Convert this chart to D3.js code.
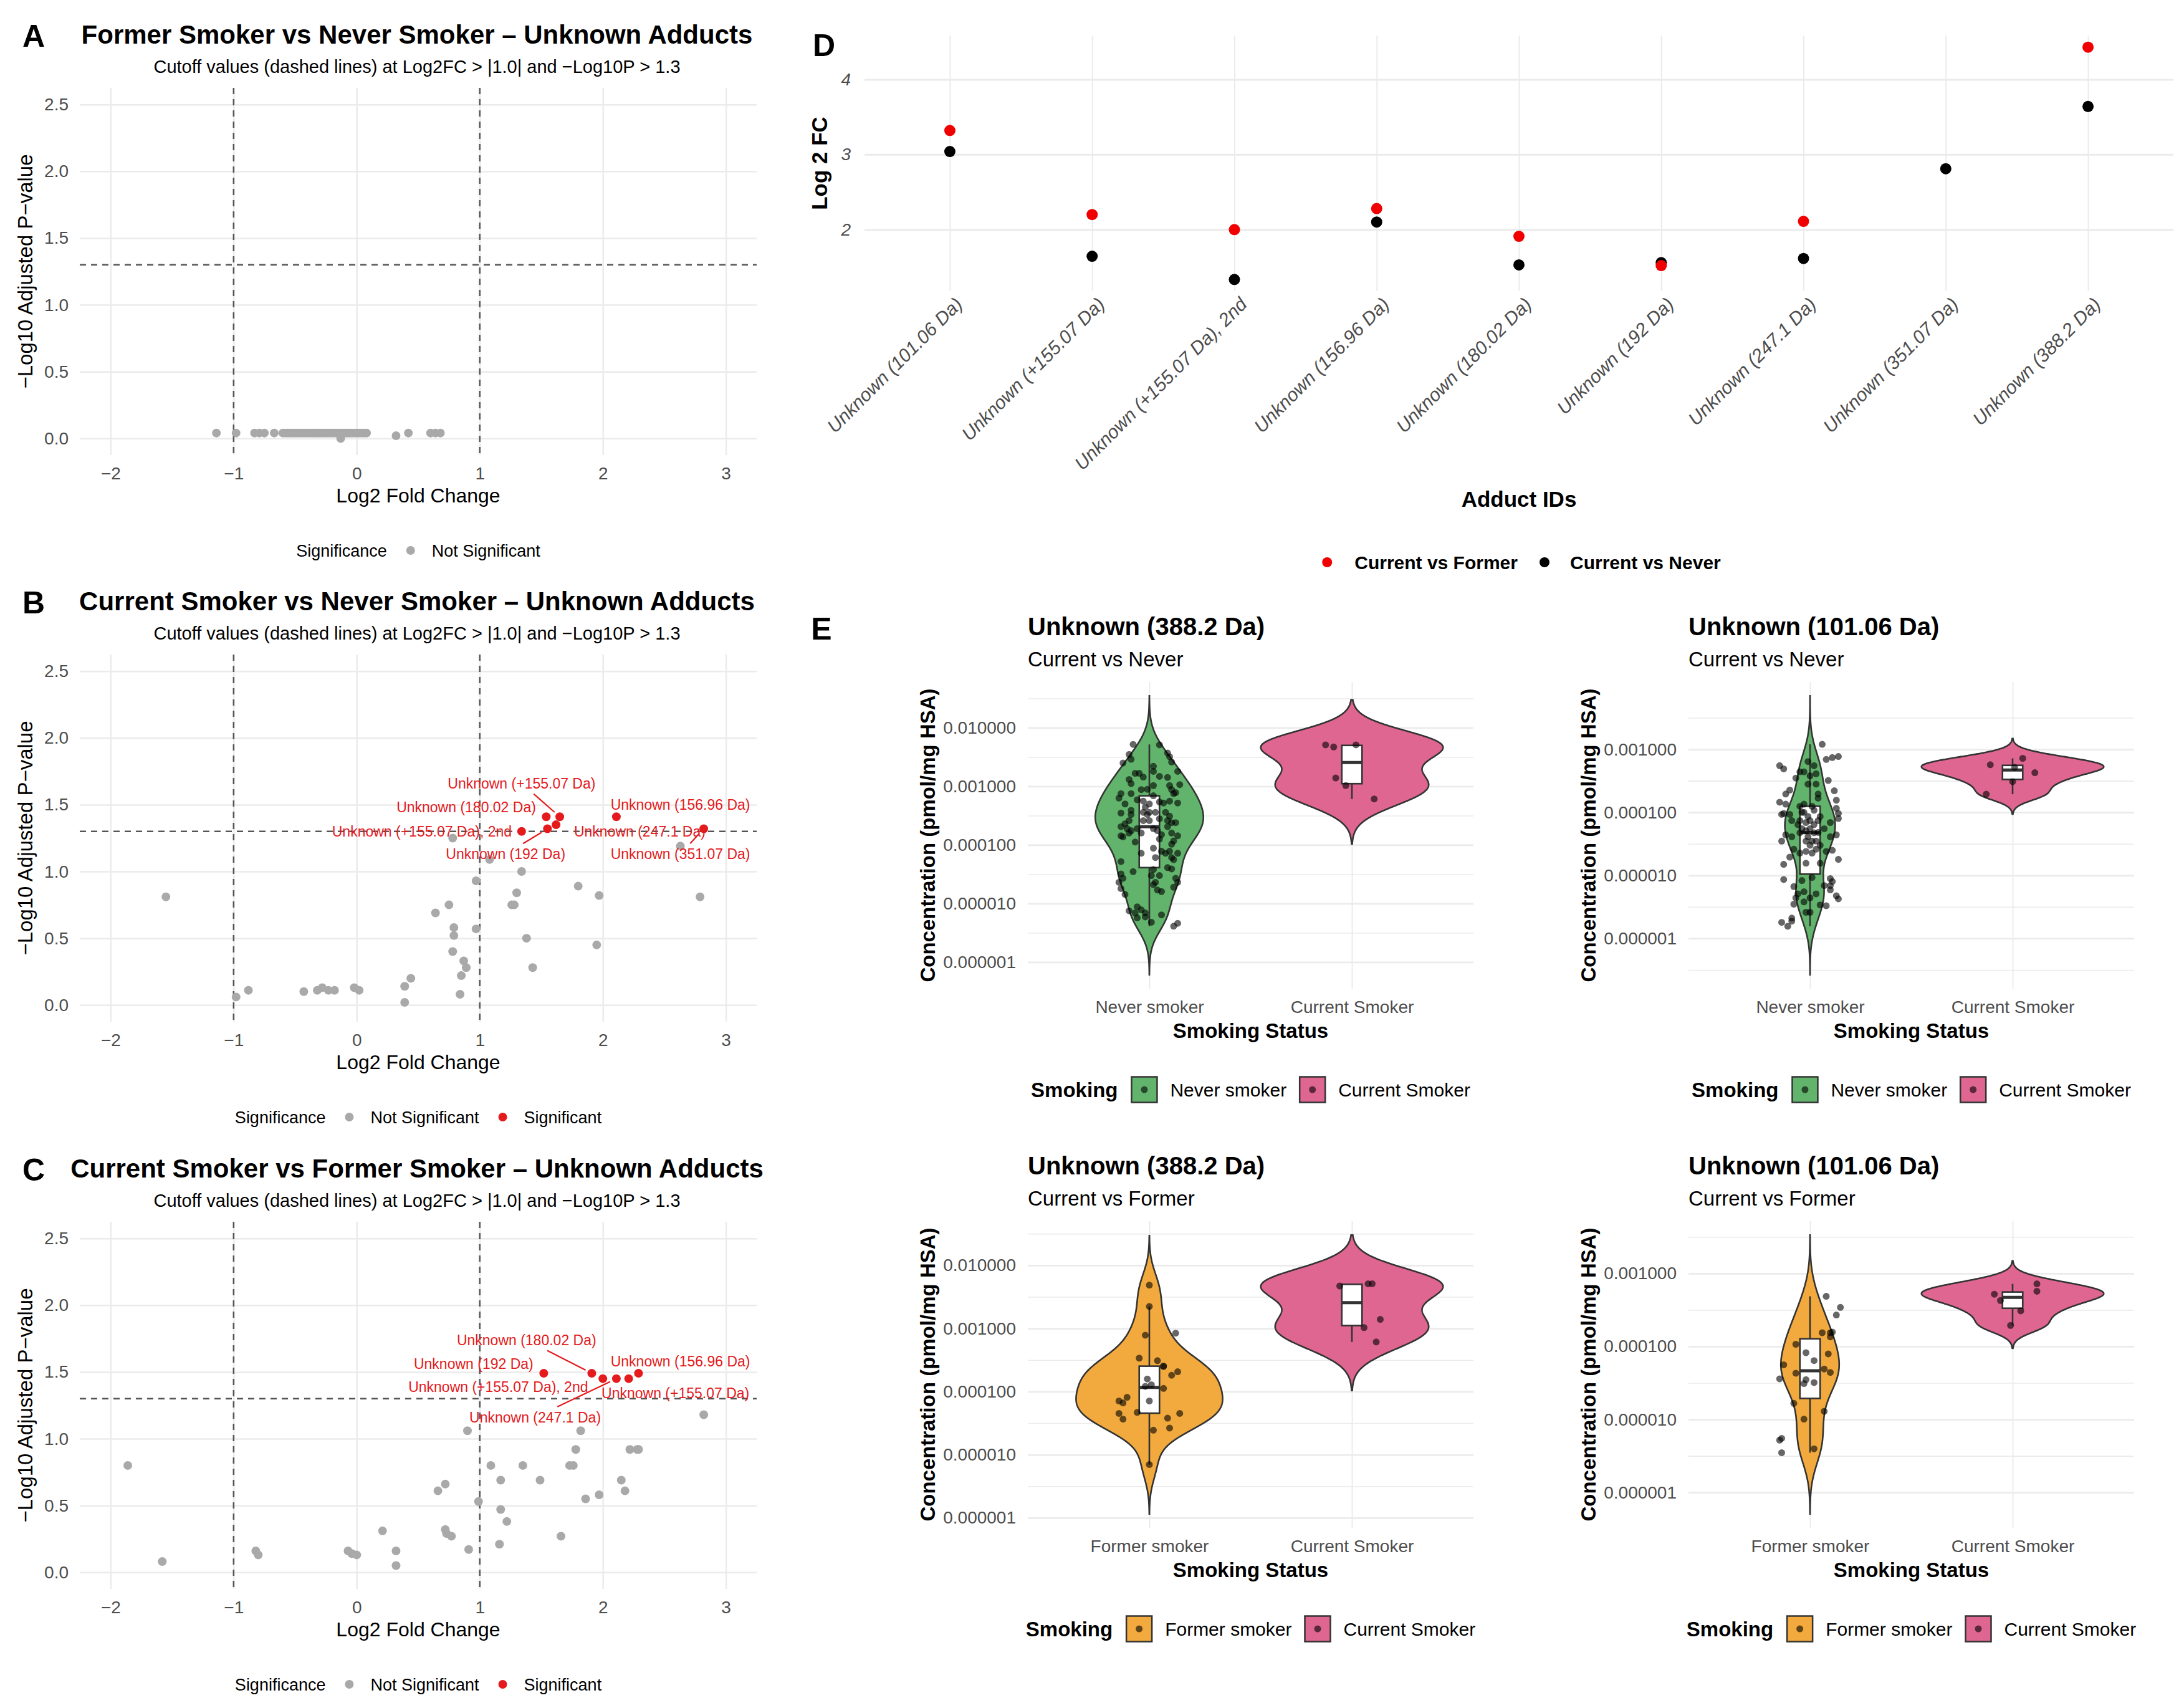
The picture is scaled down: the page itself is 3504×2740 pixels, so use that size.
<!DOCTYPE html>
<html>
<head>
<meta charset="utf-8">
<script src="https://cdn.jsdelivr.net/npm/d3@7"></script>
<style>
  body { margin: 0; background: #fff; }
</style>
</head>
<body>
<script>
// ---------- panels A-C: volcano data [log2 fold change, -log10 adjusted p] ----------
let volcanoXLimits = [-2, 3]
let volcanoYLimits = [0, 2.5]
let volcanoXTicks = [-2, -1, 0, 1, 2, 3]
let volcanoYTicks = [0, 0.5, 1, 1.5, 2, 2.5]
let cutFc = [-1, 1]
let cutP = 1.3

let volcanoA = [[-1.14,0.04],[-0.98,0.04],[-0.83,0.04],[-0.79,0.04],[-0.75,0.04],[-0.67,0.04],[-0.60,0.04],
  [-0.58,0.04],[-0.56,0.04],[-0.54,0.04],[-0.52,0.04],[-0.50,0.04],[-0.48,0.04],[-0.46,0.04],[-0.44,0.04],
  [-0.42,0.04],[-0.40,0.04],[-0.38,0.04],[-0.36,0.04],[-0.34,0.04],[-0.32,0.04],[-0.30,0.04],[-0.28,0.04],
  [-0.26,0.04],[-0.24,0.04],[-0.22,0.04],[-0.20,0.04],[-0.18,0.04],[-0.16,0.04],[-0.14,0.04],[-0.13,0.0],
  [-0.12,0.04],[-0.10,0.04],[-0.08,0.04],[-0.06,0.04],[-0.04,0.04],[-0.02,0.04],[0.0,0.04],[0.02,0.04],
  [0.04,0.04],[0.06,0.04],[0.08,0.04],[0.32,0.02],[0.42,0.04],[0.60,0.04],[0.64,0.04],[0.68,0.04]]

let volcanoB = [[-1.55,0.81],[-0.98,0.06],[-0.88,0.11],[-0.43,0.10],[-0.32,0.11],[-0.28,0.13],[-0.23,0.11],
  [-0.18,0.11],[-0.02,0.13],[0.02,0.11],[0.39,0.14],[0.39,0.02],[0.44,0.20],[0.64,0.69],[0.75,0.75],
  [0.79,0.58],[0.79,0.52],[0.78,0.40],[0.78,1.25],[0.87,0.33],[0.89,0.28],[0.85,0.22],[0.84,0.08],
  [0.97,0.57],[0.97,0.93],[1.08,1.09],[1.30,0.84],[1.26,0.75],[1.28,0.75],[1.34,1.00],[1.38,0.50],
  [1.43,0.28],[1.80,0.89],[1.97,0.82],[1.95,0.45],[2.63,1.19],[2.79,0.81]]

let volcanoC = [[-1.86,0.80],[-1.58,0.08],[-0.82,0.16],[-0.80,0.13],[-0.07,0.16],[-0.04,0.14],[0.0,0.13],
  [0.21,0.31],[0.32,0.16],[0.32,0.05],[0.66,0.61],[0.72,0.66],[0.72,0.32],[0.73,0.29],[0.77,0.27],
  [0.90,1.06],[0.91,0.17],[0.99,0.53],[1.09,0.80],[1.17,0.47],[1.17,0.69],[1.16,0.21],[1.22,0.38],
  [1.35,0.80],[1.49,0.69],[1.66,0.27],[1.73,0.80],[1.76,0.80],[1.78,0.92],[1.82,1.06],[1.86,0.55],
  [1.97,0.58],[2.15,0.69],[2.18,0.61],[2.22,0.92],[2.28,0.92],[2.29,0.92],[2.82,1.18]]

// significant adducts
let sigBIds = ['Unknown (+155.07 Da)', 'Unknown (180.02 Da)', 'Unknown (156.96 Da)', 'Unknown (+155.07 Da), 2nd',
  'Unknown (247.1 Da)', 'Unknown (192 Da)', 'Unknown (351.07 Da)']
let sigBFc = [1.65, 1.54, 2.11, 1.34, 1.62, 1.55, 2.82]
let sigBP = [1.41, 1.41, 1.41, 1.30, 1.35, 1.32, 1.32]
// where the repelled labels ended up (data units) and whether a leader line shows
let sigBLabelAt = [[1.34,1.66],[0.89,1.48],[2.63,1.50],[0.53,1.30],[2.30,1.30],[1.21,1.13],[2.63,1.13]]
let sigBSegment = [true, false, false, false, false, true, true]

let sigCIds = ['Unknown (192 Da)', 'Unknown (180.02 Da)', 'Unknown (+155.07 Da), 2nd', 'Unknown (247.1 Da)',
  'Unknown (+155.07 Da)', 'Unknown (156.96 Da)']
let sigCFc = [1.52, 1.91, 2.00, 2.11, 2.21, 2.29]
let sigCP = [1.49, 1.49, 1.45, 1.45, 1.45, 1.49]
let sigCLabelAt = [[0.95,1.56],[1.38,1.74],[1.15,1.39],[1.45,1.16],[2.59,1.34],[2.63,1.58]]
let sigCSegment = [false, true, false, true, false, false]

// ---------- panel D ----------
let adductIds = ['Unknown (101.06 Da)', 'Unknown (+155.07 Da)', 'Unknown (+155.07 Da), 2nd', 'Unknown (156.96 Da)',
  'Unknown (180.02 Da)', 'Unknown (192 Da)', 'Unknown (247.1 Da)', 'Unknown (351.07 Da)', 'Unknown (388.2 Da)']
let fcCurrentVsFormer = [3.32, 2.2, 2.0, 2.28, 1.91, 1.52, 2.11, null, 4.43]
let fcCurrentVsNever = [3.04, 1.645, 1.335, 2.1, 1.53, 1.56, 1.615, 2.81, 3.64]
let fcTicks = [2, 3, 4]

// ---------- panel E: concentrations (pmol/mg HSA) and jitter offsets (fraction of category step) ----------
let concTicks = [1e-6, 1e-5, 1e-4, 1e-3, 1e-2]

let never388 = [5.2e-3,5.1e-3,3.5e-3,2.9e-3,2.5e-3,3.7e-3,3.2e-3,2.6e-3,1.8e-3,2.2e-3,
  1.8e-3,1.48e-3,1.67e-3,1.67e-3,1.44e-3,1.31e-3,1.11e-3,1.42e-3,1.07e-3,1.03e-3,
  8.8e-4,7.8e-4,7.5e-4,7.5e-4,6.3e-4,7.5e-4,8.8e-4,8.9e-4,1.03e-3,6.9e-4,
  5.2e-4,5.6e-4,5.2e-4,5.9e-4,5.4e-4,5.6e-4,4.4e-4,3.6e-4,3.3e-4,3.5e-4,
  3.9e-4,3.3e-4,2.8e-4,2.6e-4,2.4e-4,2.4e-4,2.3e-4,2.05e-4,1.9e-4,1.6e-4,
  1.43e-4,1.37e-4,1.75e-4,1.9e-4,1.12e-4,1.75e-4,1.26e-4,2.05e-4,1.6e-4,1.43e-4,
  1.17e-4,1.03e-4,2.6e-4,2.6e-4,8.8e-5,7.8e-5,7.2e-5,7.8e-5,6.1e-5,5.6e-5,
  7.2e-5,6.1e-5,7.2e-5,5.2e-5,3.5e-5,3.2e-5,2.7e-5,2.3e-5,1.8e-5,1.43e-5,
  3.8e-5,3.0e-5,3.0e-5,2.3e-5,2.1e-5,1.7e-5,1.6e-5,2.7e-5,2.3e-5,1.9e-5,
  4.1e-5,3.9e-5,7.5e-6,8.8e-6,6.9e-6,7.8e-6,6.9e-6,5.9e-6,5.7e-6,4.8e-6,
  6.4e-6,4.1e-6,4.6e-6,3.6e-4,5.0e-4,3.6e-4,2.6e-4,3.6e-4,1.6e-4,1.5e-4,
  3.1e-4,5.0e-4,1.9e-4]
let never388Jitter = [-0.08,0.05,-0.10,-0.09,-0.13,0.09,0.10,0.11,0.14,0.02,
  0.02,0.05,-0.07,-0.05,-0.03,-0.10,-0.09,0.09,0.15,0.10,
  0.11,0.13,0.12,-0.14,-0.15,-0.09,-0.04,-0.01,0.02,0.02,
  0.07,0.10,0.14,-0.06,0.05,-0.03,-0.02,0.00,-0.01,-0.14,
  -0.09,-0.09,0.05,0.09,0.11,0.13,-0.12,-0.14,-0.11,-0.10,
  -0.14,-0.13,-0.09,-0.06,-0.07,0.04,0.05,0.09,0.11,0.14,
  0.12,0.11,-0.03,0.00,0.02,0.06,0.08,0.10,0.11,0.12,
  0.14,0.03,-0.04,-0.14,-0.08,-0.14,-0.13,-0.15,-0.14,-0.12,
  0.02,0.01,0.05,0.03,0.02,0.04,0.06,0.13,0.14,0.12,
  0.09,0.11,-0.10,-0.06,-0.07,-0.04,-0.02,-0.02,-0.06,0.01,
  0.06,0.12,0.14,-0.03,0.00,0.03,-0.10,0.08,-0.04,0.06,
  0.10,-0.12,0.02]

let never101 = [1.20e-3,5.5e-4,4.9e-4,6.9e-4,7.4e-4,7.7e-4,6.4e-4,5.5e-4,4.4e-4,3.5e-4,
  4.4e-4,3.8e-4,4.1e-4,2.8e-4,2.8e-4,3.2e-4,2.2e-4,1.56e-4,9.6e-5,8.0e-5,
  1.16e-4,1.95e-4,1.68e-4,2.26e-4,1.95e-4,1.45e-4,1.35e-4,9.6e-5,9.3e-5,9.3e-5,
  7.4e-5,1.25e-4,7.4e-5,1.0e-4,8.6e-5,1.08e-4,5.5e-5,5.1e-5,5.5e-5,7.4e-5,
  4.8e-5,3.5e-5,3.5e-5,3.0e-5,6.9e-5,4.1e-5,4.4e-5,2.4e-5,2.5e-5,4.4e-5,
  3.5e-5,4.1e-5,2.6e-5,1.95e-5,1.5e-5,2.26e-5,2.4e-5,2.26e-5,1.56e-5,1.56e-5,
  1.8e-5,8.6e-6,8.9e-6,8.0e-6,6.9e-6,5.9e-6,4.75e-6,4.25e-6,6.65e-6,5.1e-6,
  4.4e-6,3.5e-6,8.3e-6,5.5e-6,3.8e-6,4.4e-6,9.3e-6,3.4e-6,3.3e-6,2.6e-6,
  2.6e-6,2.1e-6,1.56e-6,1.8e-6,1.88e-6,6.9e-6,5.1e-6,1.35e-4,7.4e-5,6.9e-5,
  6.4e-5,4.75e-5,4.1e-5,4.75e-5,3.5e-5,1.0e-4,1.25e-4,8.6e-5,5.5e-5,6.4e-5,
  3.0e-5,2.6e-5]
let never101Jitter = [0.06,-0.15,-0.13,0.08,0.11,0.14,-0.01,0.02,-0.05,-0.07,
  -0.03,0.00,0.03,-0.01,0.03,0.09,0.12,0.13,0.14,0.14,
  0.13,0.04,0.04,-0.10,-0.12,-0.15,-0.12,-0.13,-0.14,-0.10,
  -0.09,-0.05,-0.05,-0.03,-0.01,0.02,-0.04,-0.02,0.00,0.04,
  0.04,0.03,0.01,0.05,0.10,0.10,0.13,0.08,0.11,-0.12,
  -0.14,-0.09,-0.08,-0.10,-0.13,-0.05,-0.02,0.01,0.05,-0.02,
  0.14,-0.13,0.10,0.11,0.10,0.10,0.13,0.14,-0.08,-0.06,
  -0.07,-0.08,-0.04,-0.03,-0.03,0.00,0.01,0.05,0.08,-0.02,
  0.00,-0.09,-0.11,-0.14,-0.09,0.07,0.03,-0.03,0.00,-0.02,
  0.02,-0.05,-0.01,0.02,-0.02,-0.04,0.01,0.05,0.07,-0.06,
  0.00,0.03]

let former388 = [4.85e-3,2.23e-3,7.8e-4,8.4e-4,3.38e-4,3.08e-4,2.53e-4,2.5e-4,2.06e-4,1.81e-4,
  1.58e-4,1.21e-4,1.28e-4,1.12e-4,7.1e-5,7.1e-5,8.1e-5,6.6e-5,4.5e-5,3.66e-5,
  4.67e-5,4.5e-5,3.78e-5,2.64e-5,2.44e-5,6.97e-6]
let former388Jitter = [0.00,0.00,-0.02,0.13,-0.05,0.04,0.07,0.07,0.14,0.11,
  -0.01,-0.02,0.01,0.07,0.00,-0.15,-0.11,-0.13,-0.15,-0.13,
  -0.06,0.15,0.09,0.10,0.02,0.00]

let former101 = [4.86e-4,3.43e-4,2.69e-4,1.54e-4,1.54e-4,1.57e-4,1.35e-4,1.07e-4,8.2e-5,6.4e-5,
  7.9e-5,5.6e-5,4.3e-5,4.9e-5,4.4e-5,3.6e-5,3.5e-5,3.1e-5,3.2e-5,1.66e-5,
  1.29e-5,1.01e-5,5.5e-6,5.2e-6,3.5e-6,3.96e-6]
let former101Jitter = [0.08,0.15,0.13,0.06,0.10,0.11,0.10,-0.07,-0.02,0.02,
  0.09,-0.13,-0.07,0.07,0.10,-0.15,-0.02,-0.03,0.02,-0.08,
  0.07,-0.03,-0.14,-0.15,-0.14,0.02]

let current388 = [5.1e-3, 5.1e-3, 4.7e-3, 1.39e-3, 1.03e-3, 6.1e-4]
let current388JitterVsNever = [-0.13, 0.02, -0.09, -0.08, -0.03, 0.11]
let current388JitterVsFormer = [0.08, 0.10, -0.06, 0.14, 0.06, 0.12]

let current101 = [7.2e-4, 5.7e-4, 5.19e-4, 4.26e-4, 3.07e-4, 1.94e-4]
let current101JitterVsNever = [0.05, -0.11, 0.01, 0.11, 0.00, -0.13]
let current101JitterVsFormer = [0.12, 0.12, -0.09, -0.06, 0.04, -0.01]

// ---------- drawing ----------
let width = 3504
let height = 2740
let font = '"Liberation Sans", Arial, Helvetica, sans-serif'
let gridCol = '#EBEBEB'
let tickCol = '#4D4D4D'
let red = '#E41A1C'
let green = '#62B46C'
let pink = '#DE6690'
let orange = '#F2AA3E'

let svg = d3.select('body')
  .append('svg')
  .attr('width', width)
  .attr('height', height)
  .attr('font-family', font)

svg.append('rect').attr('width', width).attr('height', height).attr('fill', '#fff')

function gridStyle(a, w) {
  a.select('.domain').remove()
  a.selectAll('line').attr('stroke', gridCol).attr('stroke-width', w || 2.5)
}

function labelStyle(a, size, italic) {
  a.select('.domain').remove()
  a.attr('font-size', size).attr('font-family', font)
  a.selectAll('text').attr('fill', tickCol).attr('font-style', italic ? 'italic' : null)
}

function text(g, x, y, s, size, opt) {
  opt = opt || {}
  return g.append('text')
    .attr('x', x).attr('y', y)
    .attr('font-size', size)
    .attr('font-weight', opt.bold ? 'bold' : null)
    .attr('font-style', opt.italic ? 'italic' : null)
    .attr('text-anchor', opt.anchor || 'start')
    .attr('fill', opt.fill || '#000')
    .text(s)
}

// lays a legend out left to right, then centres it on cx
function legendRow(cx, cy, items) {
  let g = svg.append('g')
  let x = 0
  items.forEach(it => {
    if (it.gap) { x += it.gap; return }
    if (it.text) {
      let t = text(g, x, cy + it.size * 0.36, it.text, it.size, { bold: it.bold })
      x += t.node().getComputedTextLength()
    } else if (it.dot) {
      g.append('circle').attr('cx', x + it.r).attr('cy', cy).attr('r', it.r).attr('fill', it.dot)
      x += 2 * it.r
    } else if (it.key) {
      g.append('rect').attr('x', x).attr('y', cy - 20.5).attr('width', 41).attr('height', 41)
        .attr('fill', it.key).attr('stroke', '#333').attr('stroke-width', 2.5)
      g.append('circle').attr('cx', x + 20.5).attr('cy', cy).attr('r', 5.5)
        .attr('fill', '#000').attr('opacity', 0.6)
      x += 41
    }
  })
  g.attr('transform', 'translate(' + (cx - x / 2) + ',0)')
}

function expand(lim, f) {
  let d = (lim[1] - lim[0]) * f
  return [lim[0] - d, lim[1] + d]
}

function volcano(top, letter, title, gray, sig) {
  let g = svg.append('g').attr('transform', 'translate(0,' + top + ')')
  let left = 128, right = 1214, pTop = 141, pBottom = 730
  let x = d3.scaleLinear().domain(expand(volcanoXLimits, 0.05)).range([left, right])
  let y = d3.scaleLinear().domain(expand(volcanoYLimits, 0.05)).range([pBottom, pTop])

  g.append('g').attr('transform', 'translate(0,' + pBottom + ')')
    .call(d3.axisBottom(x).tickValues(volcanoXTicks).tickSize(-(pBottom - pTop)).tickFormat(''))
    .call(gridStyle)
  g.append('g').attr('transform', 'translate(' + left + ',0)')
    .call(d3.axisLeft(y).tickValues(volcanoYTicks).tickSize(-(right - left)).tickFormat(''))
    .call(gridStyle)

  g.append('g').attr('transform', 'translate(0,' + pBottom + ')')
    .call(d3.axisBottom(x).tickValues(volcanoXTicks).tickSize(0).tickPadding(19).tickFormat(d3.format('d')))
    .call(labelStyle, 28)
  g.append('g').attr('transform', 'translate(' + left + ',0)')
    .call(d3.axisLeft(y).tickValues(volcanoYTicks).tickSize(0).tickPadding(18).tickFormat(d3.format('.1f')))
    .call(labelStyle, 28)

  // cutoffs
  g.append('g').selectAll('line').data(cutFc).join('line')
    .attr('x1', d => x(d)).attr('x2', d => x(d)).attr('y1', pTop).attr('y2', pBottom)
    .attr('stroke', '#555').attr('stroke-width', 2.5).attr('stroke-dasharray', '10,8')
  g.append('line')
    .attr('x1', left).attr('x2', right).attr('y1', y(cutP)).attr('y2', y(cutP))
    .attr('stroke', '#555').attr('stroke-width', 2.5).attr('stroke-dasharray', '10,8')

  g.append('g').selectAll('circle').data(gray).join('circle')
    .attr('cx', d => x(d[0])).attr('cy', d => y(d[1])).attr('r', 7).attr('fill', '#A9A9A9')

  g.append('g').selectAll('circle').data(sig).join('circle')
    .attr('cx', d => x(d.fc)).attr('cy', d => y(d.p)).attr('r', 7).attr('fill', red)

  sig.forEach(s => {
    let t = text(g, x(s.at[0]), y(s.at[1]) + 8, s.id, 23, { anchor: 'middle', fill: red })
    if (!s.seg) return
    let b = t.node().getBBox()
    let cx = b.x + b.width / 2, cy = b.y + b.height / 2
    let px = x(s.fc), py = y(s.p)
    let dx = px - cx, dy = py - cy
    let k = Math.min((b.width / 2 + 4) / Math.abs(dx || 1e-6), (b.height / 2 + 4) / Math.abs(dy || 1e-6))
    let sx = cx + dx * k, sy = cy + dy * k
    let len = Math.hypot(px - sx, py - sy)
    g.append('line')
      .attr('x1', sx).attr('y1', sy)
      .attr('x2', px - (px - sx) / len * 11).attr('y2', py - (py - sy) / len * 11)
      .attr('stroke', red).attr('stroke-width', 2.2)
  })

  text(g, 54, 75, letter, 50, { bold: true, anchor: 'middle' })
  text(g, 669, 70, title, 42, { bold: true, anchor: 'middle' })
  text(g, 669, 117, 'Cutoff values (dashed lines) at Log2FC > |1.0| and \u2212Log10P > 1.3', 29, { anchor: 'middle' })
  text(g, (left + right) / 2, 806, 'Log2 Fold Change', 32, { anchor: 'middle' })
  text(g, 0, 0, '\u2212Log10 Adjusted P\u2212value', 33, { anchor: 'middle' })
    .attr('transform', 'translate(52,' + (pTop + pBottom) / 2 + ') rotate(-90)')

  let items = [{ text: 'Significance', size: 27 }, { gap: 31 }, { dot: '#A9A9A9', r: 7 }, { gap: 27 },
    { text: 'Not Significant', size: 27 }]
  if (sig.length) items = items.concat([{ gap: 31 }, { dot: red, r: 7 }, { gap: 27 }, { text: 'Significant', size: 27 }])
  legendRow((left + right) / 2, top + 883, items)
}

function sigRows(ids, fc, p, at, seg) {
  return ids.map((id, i) => ({ id: id, fc: fc[i], p: p[i], at: at[i], seg: seg[i] }))
}

volcano(0, 'A', 'Former Smoker vs Never Smoker \u2013 Unknown Adducts', volcanoA, [])
volcano(909, 'B', 'Current Smoker vs Never Smoker \u2013 Unknown Adducts', volcanoB,
  sigRows(sigBIds, sigBFc, sigBP, sigBLabelAt, sigBSegment))
volcano(1819, 'C', 'Current Smoker vs Former Smoker \u2013 Unknown Adducts', volcanoC,
  sigRows(sigCIds, sigCFc, sigCP, sigCLabelAt, sigCSegment))

// ---------- panel D ----------
function dotPlot() {
  let g = svg.append('g')
  let left = 1387, right = 3487, pTop = 57, pBottom = 467
  let x = d3.scalePoint().domain(adductIds).range([left, right]).padding(0.6)
  let all = fcCurrentVsFormer.concat(fcCurrentVsNever).filter(v => v != null)
  let y = d3.scaleLinear().domain(expand(d3.extent(all), 0.05)).range([pBottom, pTop])

  g.append('g').attr('transform', 'translate(0,' + pBottom + ')')
    .call(d3.axisBottom(x).tickSize(-(pBottom - pTop)).tickFormat(''))
    .call(gridStyle, 2)
  g.append('g').attr('transform', 'translate(' + left + ',0)')
    .call(d3.axisLeft(y).tickValues(fcTicks).tickSize(-(right - left)).tickFormat(''))
    .call(gridStyle, 3)

  g.append('g').attr('transform', 'translate(' + left + ',0)')
    .call(d3.axisLeft(y).tickValues(fcTicks).tickSize(0).tickPadding(22).tickFormat(d3.format('d')))
    .call(labelStyle, 28, true)

  g.append('g').selectAll('text').data(adductIds).join('text')
    .attr('transform', d => 'translate(' + (x(d) + 22) + ',490) rotate(-45)')
    .attr('text-anchor', 'end')
    .attr('font-size', 30)
    .attr('font-style', 'italic')
    .attr('fill', tickCol)
    .text(d => d)

  g.append('g').selectAll('circle').data(adductIds).join('circle')
    .attr('cx', d => x(d)).attr('cy', (d, i) => y(fcCurrentVsNever[i])).attr('r', 9).attr('fill', '#000')
  g.append('g').selectAll('circle')
    .data(adductIds.map((d, i) => [d, fcCurrentVsFormer[i]]).filter(d => d[1] != null))
    .join('circle')
    .attr('cx', d => x(d[0])).attr('cy', d => y(d[1])).attr('r', 9).attr('fill', '#F00000')

  text(g, 1322, 90, 'D', 50, { bold: true, anchor: 'middle' })
  text(g, 0, 0, 'Log 2 FC', 35, { bold: true, anchor: 'middle' })
    .attr('transform', 'translate(1327,' + (pTop + pBottom) / 2 + ') rotate(-90)')
  text(g, (left + right) / 2, 813, 'Adduct IDs', 35, { bold: true, anchor: 'middle' })

  legendRow(2441, 902, [{ dot: '#F00000', r: 8 }, { gap: 36 }, { text: 'Current vs Former', size: 30, bold: true },
    { gap: 35 }, { dot: '#000', r: 8 }, { gap: 33 }, { text: 'Current vs Never', size: 30, bold: true }])
}
dotPlot()

// ---------- panel E ----------
function nrd0(v) {
  let s = v.slice().sort(d3.ascending)
  let iqr = d3.quantileSorted(s, 0.75) - d3.quantileSorted(s, 0.25)
  let lo = Math.min(d3.deviation(s), iqr / 1.34)
  return 0.9 * lo * Math.pow(s.length, -0.2)
}

function violinPanel(left, top, title, subtitle, groups) {
  let g = svg.append('g')
  let w = 715, h = 492
  let right = left + w, bottom = top + h
  let x = d3.scalePoint().domain(groups.map(d => d.name)).range([left, right]).padding(0.6)
  let step = x.step()

  // kernel density on the log10 scale, like a log-scaled violin
  groups.forEach(gr => {
    let logs = gr.values.map(Math.log10)
    let bw = nrd0(logs)
    let ext = d3.extent(logs)
    let lo = ext[0] - 3 * bw, hi = ext[1] + 3 * bw
    gr.logs = logs
    gr.density = d3.range(512).map(i => {
      let t = lo + (hi - lo) * i / 511
      let dens = d3.mean(logs, v => Math.exp(-0.5 * Math.pow((t - v) / bw, 2))) / (bw * Math.sqrt(2 * Math.PI))
      return [t, dens]
    })
  })
  let lo = d3.min(groups, gr => gr.density[0][0])
  let hi = d3.max(groups, gr => gr.density[511][0])
  let dom = expand([lo, hi], 0.05)
  let y = d3.scaleLog().domain([Math.pow(10, dom[0]), Math.pow(10, dom[1])]).range([bottom, top])
  let maxD = d3.max(groups, gr => d3.max(gr.density, d => d[1]))

  // keep labelled decades clear of the panel edge
  let inside = v => Math.log10(v) >= dom[0] + 0.1 && Math.log10(v) <= dom[1] - 0.15
  let major = concTicks.filter(inside)
  let minor = concTicks.map(v => v * Math.sqrt(10)).concat([concTicks[0] / Math.sqrt(10)])
    .filter(v => v >= y.domain()[0] && v <= y.domain()[1])

  g.append('g').attr('transform', 'translate(' + left + ',0)')
    .call(d3.axisLeft(y).tickValues(minor).tickSize(-w).tickFormat(''))
    .call(gridStyle, 1.6)
  g.append('g').attr('transform', 'translate(' + left + ',0)')
    .call(d3.axisLeft(y).tickValues(major).tickSize(-w).tickFormat(''))
    .call(gridStyle, 2.8)
  g.append('g').attr('transform', 'translate(0,' + bottom + ')')
    .call(d3.axisBottom(x).tickSize(-h).tickFormat(''))
    .call(gridStyle, 2)

  g.append('g').attr('transform', 'translate(' + left + ',0)')
    .call(d3.axisLeft(y).tickValues(major).tickSize(0).tickPadding(19).tickFormat(d3.format('.6f')))
    .call(labelStyle, 28)
  g.append('g').attr('transform', 'translate(0,' + bottom + ')')
    .call(d3.axisBottom(x).tickSize(0).tickPadding(19))
    .call(labelStyle, 28)

  groups.forEach(gr => {
    let cx = x(gr.name)
    let half = d => d[1] / maxD * 0.45 * step
    let area = d3.area()
      .y(d => y(Math.pow(10, d[0])))
      .x0(d => cx - half(d))
      .x1(d => cx + half(d))
    g.append('path').datum(gr.density).attr('d', area)
      .attr('fill', gr.color).attr('stroke', '#333').attr('stroke-width', 2.6)

    // boxplot
    let s = gr.logs.slice().sort(d3.ascending)
    let q1 = d3.quantileSorted(s, 0.25), med = d3.quantileSorted(s, 0.5), q3 = d3.quantileSorted(s, 0.75)
    let iqr = q3 - q1
    let wLo = d3.min(s.filter(v => v >= q1 - 1.5 * iqr))
    let wHi = d3.max(s.filter(v => v <= q3 + 1.5 * iqr))
    let p = v => y(Math.pow(10, v))
    let bw = 0.05 * step
    g.append('line').attr('x1', cx).attr('x2', cx).attr('y1', p(wLo)).attr('y2', p(wHi))
      .attr('stroke', '#333').attr('stroke-width', 2.6)
    g.append('rect').attr('x', cx - bw).attr('width', 2 * bw)
      .attr('y', p(q3)).attr('height', p(q1) - p(q3))
      .attr('fill', '#fff').attr('stroke', '#333').attr('stroke-width', 2.6)
    g.append('line').attr('x1', cx - bw).attr('x2', cx + bw).attr('y1', p(med)).attr('y2', p(med))
      .attr('stroke', '#333').attr('stroke-width', 5)
  })

  groups.forEach(gr => {
    let cx = x(gr.name)
    g.append('g').selectAll('circle').data(gr.values).join('circle')
      .attr('cx', (d, i) => cx + gr.jitter[i] * step)
      .attr('cy', d => y(d))
      .attr('r', 5.5)
      .attr('fill', '#000')
      .attr('opacity', 0.6)
  })

  text(g, left, top - 75, title, 40, { bold: true })
  text(g, left, top - 25, subtitle, 33)
  text(g, (left + right) / 2, bottom + 79, 'Smoking Status', 33, { bold: true, anchor: 'middle' })
  text(g, 0, 0, 'Concentration (pmol/mg HSA)', 33, { bold: true, anchor: 'middle' })
    .attr('transform', 'translate(' + (left - 149) + ',' + (top + bottom) / 2 + ') rotate(-90)')

  legendRow((left + right) / 2, bottom + 162, [{ text: 'Smoking', size: 33, bold: true }, { gap: 22 },
    { key: groups[0].color }, { gap: 21 }, { text: groups[0].name, size: 30 }, { gap: 21 },
    { key: groups[1].color }, { gap: 21 }, { text: groups[1].name, size: 30 }])
}

violinPanel(1649, 1094, 'Unknown (388.2 Da)', 'Current vs Never', [
  { name: 'Never smoker', values: never388, jitter: never388Jitter, color: green },
  { name: 'Current Smoker', values: current388, jitter: current388JitterVsNever, color: pink }])
violinPanel(2709, 1094, 'Unknown (101.06 Da)', 'Current vs Never', [
  { name: 'Never smoker', values: never101, jitter: never101Jitter, color: green },
  { name: 'Current Smoker', values: current101, jitter: current101JitterVsNever, color: pink }])
violinPanel(1649, 1959, 'Unknown (388.2 Da)', 'Current vs Former', [
  { name: 'Former smoker', values: former388, jitter: former388Jitter, color: orange },
  { name: 'Current Smoker', values: current388, jitter: current388JitterVsFormer, color: pink }])
violinPanel(2709, 1959, 'Unknown (101.06 Da)', 'Current vs Former', [
  { name: 'Former smoker', values: former101, jitter: former101Jitter, color: orange },
  { name: 'Current Smoker', values: current101, jitter: current101JitterVsFormer, color: pink }])

text(svg, 1318, 1026, 'E', 50, { bold: true, anchor: 'middle' })
</script>
</body>
</html>
